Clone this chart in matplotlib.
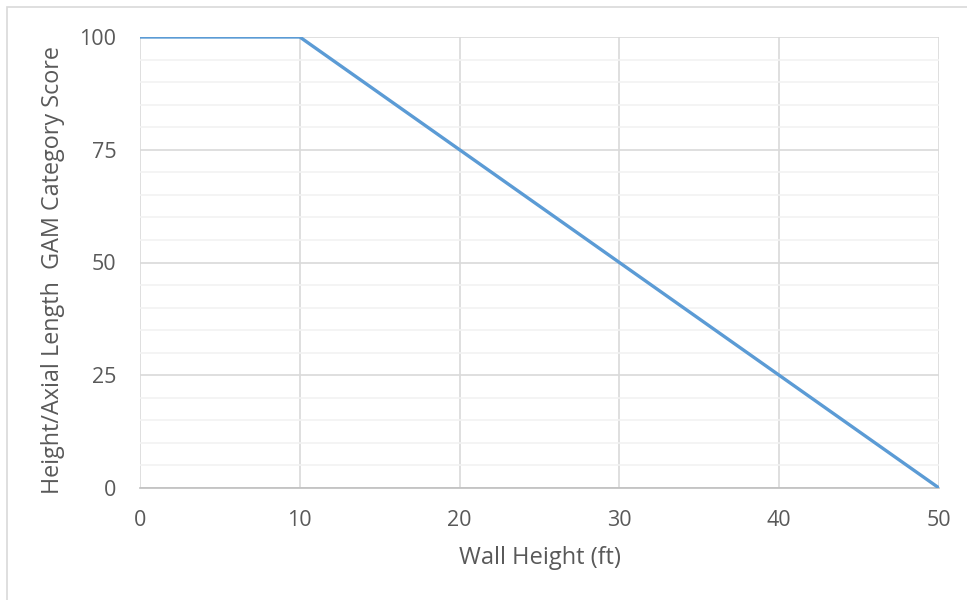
import matplotlib.pyplot as plt
from matplotlib.patches import Rectangle

# wall height vs score
wall_height = [0, 10, 50]
score = [100, 100, 0]
x_ticks = [0, 10, 20, 30, 40, 50]
y_ticks = [0, 25, 50, 75, 100]

plt.rcParams['font.family'] = ['Open Sans', 'DejaVu Sans']

fig = plt.figure(figsize=(9.67, 6), dpi=100)
ax = fig.add_axes([140/967, 112/600, 799/967, 451/600])

# outer chart border (cut off at right/bottom)
fig.patches.append(Rectangle((7/967, -0.1), 1.1, (600-7)/600 + 0.1,
                             transform=fig.transFigure, fill=False,
                             edgecolor='#d9d9d9', linewidth=1.2))

ax.plot(wall_height, score, color='#5b9bd5', linewidth=2.4, solid_capstyle='round', zorder=3)

ax.set_xlim(0, 50)
ax.set_ylim(0, 100)
ax.set_xticks(x_ticks)
ax.set_yticks(y_ticks)
ax.set_yticks(range(0, 101, 5), minor=True)
ax.grid(which='major', color='#d9d9d9', linewidth=1.2)
ax.grid(which='minor', axis='y', color='#f2f2f2', linewidth=1.2)
ax.set_axisbelow(True)

for s in ['top', 'right', 'left']:
    ax.spines[s].set_visible(False)
ax.spines['bottom'].set_color('#bfbfbf')
ax.spines['bottom'].set_linewidth(1.2)

ax.tick_params(which='both', length=0, labelsize=15.5, colors='#595959')
ax.tick_params(axis='x', pad=16)
ax.tick_params(axis='y', pad=17)

ax.set_xlabel('Wall Height (ft)', fontsize=17, color='#595959', labelpad=11)
ax.set_ylabel('Height/Axial Length  GAM Category Score', fontsize=16.8, color='#595959')
ax.yaxis.set_label_coords(-0.094, 0.483)

fig.savefig('out.png', dpi=100)
